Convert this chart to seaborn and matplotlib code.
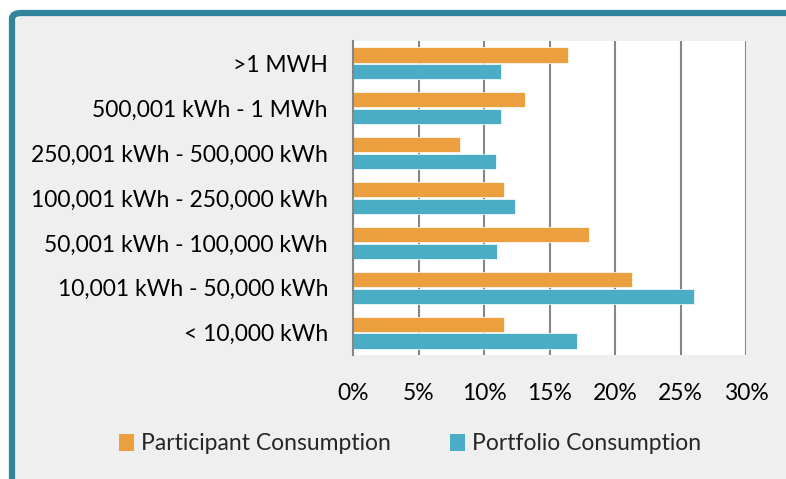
import pandas as pd
import matplotlib.pyplot as plt
import seaborn as sns
from matplotlib.patches import FancyBboxPatch, Patch

# Values (share of total consumption, %)
categories = ['>1 MWH', '500,001 kWh - 1 MWh', '250,001 kWh - 500,000 kWh',
              '100,001 kWh - 250,000 kWh', '50,001 kWh - 100,000 kWh',
              '10,001 kWh - 50,000 kWh', '< 10,000 kWh']
participant = [16.4, 13.1, 8.2, 11.5, 18.0, 21.3, 11.5]
portfolio = [11.3, 11.3, 10.9, 12.4, 11.0, 26.0, 17.1]
series_names = ['Participant Consumption', 'Portfolio Consumption']
ticks = [0, 5, 10, 15, 20, 25, 30]

colors = ['#eb9f3e', '#4bacc6']

df = pd.DataFrame({
    'Band': categories * 2,
    'Share': participant + portfolio,
    'Series': [series_names[0]] * len(categories) + [series_names[1]] * len(categories),
})

sns.set_style('white')
plt.rcParams['font.family'] = ['Lato', 'DejaVu Sans']
FS = 16.5

fig = plt.figure(figsize=(7.86, 4.79), dpi=100, facecolor='white')

# grey panel with teal frame on top/left (rounded corner)
bg = fig.add_axes([0, 0, 1, 1], zorder=0)
bg.set_axis_off()
bg.set_xlim(0, 1)
bg.set_ylim(0, 1)
frame = FancyBboxPatch((12 / 786, -0.2), 1.2, 1.2 - 13 / 479,
                       boxstyle='round,pad=0,rounding_size=0.012',
                       transform=bg.transAxes, facecolor='#efefef',
                       edgecolor='#31849b', linewidth=4.5, clip_on=False)
bg.add_patch(frame)

ax = fig.add_axes([353 / 786, 1 - 355 / 479, (746 - 353) / 786, (355 - 41) / 479], zorder=2)

sns.barplot(data=df, y='Band', x='Share', hue='Series', order=categories,
            palette=colors, saturation=1, orient='h', width=0.75, gap=0.1,
            edgecolor='white', linewidth=0.5, legend=False, ax=ax, zorder=3)

# white plot area
ax.patch.set_facecolor('white')
ax.axvspan(0, 30, facecolor='white', edgecolor='none', zorder=-1)

ax.set_xlim(0, 30)
ax.set_xticks(ticks)
ax.set_xticklabels([f'{t}%' for t in ticks])
ax.set_xlabel('')
ax.set_ylabel('')
ax.grid(axis='x', color='#868686', linewidth=1.5, zorder=0)
ax.set_axisbelow(True)
for s in ['top', 'right', 'bottom']:
    ax.spines[s].set_visible(False)
ax.spines['left'].set_color('#868686')
ax.spines['left'].set_linewidth(1.5)
ax.spines['left'].set_zorder(4)
ax.tick_params(axis='x', length=0, pad=20, labelsize=FS, colors='black')
ax.tick_params(axis='y', length=0, pad=18, labelsize=FS, colors='black')

handles = [Patch(facecolor=c, edgecolor='none') for c in colors]
fig.legend(handles, series_names, loc='center', bbox_to_anchor=(410 / 786, 1 - 444 / 479),
           ncol=2, frameon=False, fontsize=FS, handlelength=0.65, handleheight=0.75,
           handletextpad=0.3, columnspacing=2.6)

fig.savefig('out.png', dpi=100, facecolor=fig.get_facecolor())
